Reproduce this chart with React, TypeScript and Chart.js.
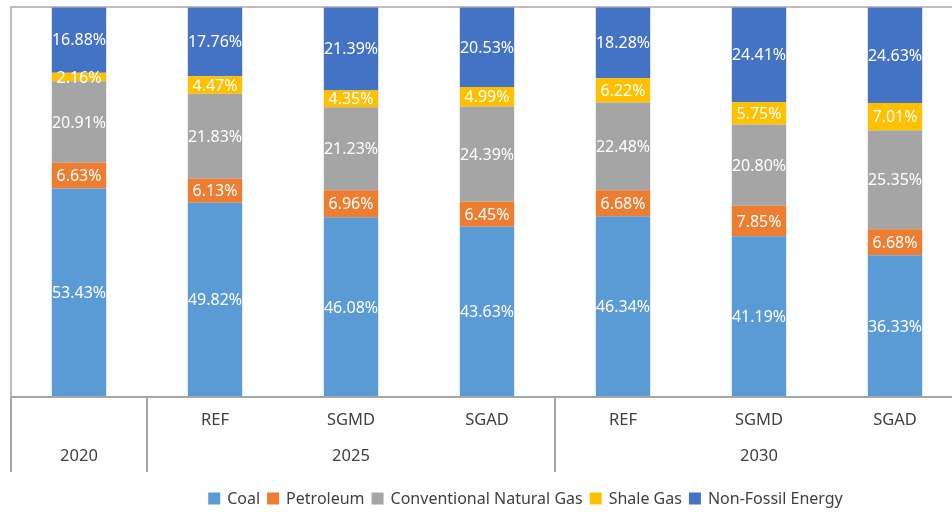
import React, { useEffect, useRef } from "react";
import { Chart, registerables } from "chart.js";

Chart.register(...registerables);

const subLabels = ["", "REF", "SGMD", "SGAD", "REF", "SGMD", "SGAD"];
const groupLabels = ["2020", "2025", "2030"];
const groupSpans = [1, 3, 3];

const coal = [53.43, 49.82, 46.08, 43.63, 46.34, 41.19, 36.33];
const petroleum = [6.63, 6.13, 6.96, 6.45, 6.68, 7.85, 6.68];
const convGas = [20.91, 21.83, 21.23, 24.39, 22.48, 20.8, 25.35];
const shaleGas = [2.16, 4.47, 4.35, 4.99, 6.22, 5.75, 7.01];
const nonFossil = [16.88, 17.76, 21.39, 20.53, 18.28, 24.41, 24.63];

const seriesNames = ["Coal", "Petroleum", "Conventional Natural Gas", "Shale Gas", "Non-Fossil Energy"];
const seriesColors = ["#5B9BD5", "#ED7D31", "#A5A5A5", "#FFC000", "#4472C4"];

const FONT = "'Noto Sans', sans-serif";
const LINE = "#A6A6A6";
const TEXT = "#404040";

const overlay = {
  id: "overlay",
  afterDatasetsDraw(chart: any) {
    const ctx = chart.ctx;
    const ca = chart.chartArea;
    const xs = chart.scales.x;
    // data labels
    ctx.save();
    ctx.font = `16px ${FONT}`;
    ctx.fillStyle = "#FFFFFF";
    ctx.textAlign = "center";
    ctx.textBaseline = "middle";
    chart.data.datasets.forEach((ds: any, di: number) => {
      const meta = chart.getDatasetMeta(di);
      meta.data.forEach((bar: any, i: number) => {
        const v = ds.data[i];
        const cy = (bar.y + bar.base) / 2;
        ctx.fillText(v.toFixed(2) + "%", bar.x, cy + 1);
      });
    });
    ctx.restore();

    // plot border
    ctx.save();
    ctx.strokeStyle = LINE;
    ctx.lineWidth = 1.5;
    ctx.beginPath();
    ctx.moveTo(ca.left, ca.bottom);
    ctx.lineTo(ca.left, ca.top);
    ctx.lineTo(ca.right, ca.top);
    ctx.stroke();
    ctx.lineWidth = 2;
    ctx.beginPath();
    ctx.moveTo(ca.left, ca.bottom);
    ctx.lineTo(ca.right, ca.bottom);
    ctx.stroke();

    // category table
    const step = xs.getPixelForValue(1) - xs.getPixelForValue(0);
    const tableBottom = ca.bottom + 75;
    let idx = 0;
    const bounds: number[] = [xs.getPixelForValue(0) - step / 2];
    groupSpans.forEach((s) => {
      idx += s;
      bounds.push(xs.getPixelForValue(idx - 1) + step / 2);
    });
    ctx.lineWidth = 2;
    bounds.forEach((bx) => {
      ctx.beginPath();
      ctx.moveTo(bx, ca.bottom);
      ctx.lineTo(bx, tableBottom);
      ctx.stroke();
    });

    ctx.font = `16.5px ${FONT}`;
    ctx.fillStyle = TEXT;
    ctx.textAlign = "center";
    ctx.textBaseline = "middle";
    subLabels.forEach((l, i) => {
      if (l) ctx.fillText(l, xs.getPixelForValue(i), ca.bottom + 23);
    });
    let start = 0;
    groupLabels.forEach((g, gi) => {
      const s = groupSpans[gi];
      const x0 = xs.getPixelForValue(start);
      const x1 = xs.getPixelForValue(start + s - 1);
      ctx.fillText(g, (x0 + x1) / 2, ca.bottom + 59);
      start += s;
    });

    // legend
    ctx.font = `16px ${FONT}`;
    ctx.textAlign = "left";
    const box = 12;
    const gapBoxText = 7;
    const gapItems = 7;
    const widths = seriesNames.map((n) => box + gapBoxText + ctx.measureText(n).width);
    const total = widths.reduce((a, b) => a + b, 0) + gapItems * (seriesNames.length - 1);
    let lx = 525.5 - total / 2;
    const ly = 498.5;
    seriesNames.forEach((n, i) => {
      ctx.fillStyle = seriesColors[i];
      ctx.fillRect(lx, ly - box / 2, box, box);
      ctx.fillStyle = TEXT;
      ctx.fillText(n, lx + box + gapBoxText, ly + 1);
      lx += widths[i] + gapItems;
    });
    ctx.restore();
  },
};

export default function App() {
  const ref = useRef<HTMLCanvasElement | null>(null);
  useEffect(() => {
    if (!ref.current) return;
    const values = [coal, petroleum, convGas, shaleGas, nonFossil];
    const chart = new Chart(ref.current, {
      type: "bar",
      data: {
        labels: subLabels.map((l, i) => l || groupLabels[0] + i),
        datasets: seriesNames.map((n, i) => ({
          label: n,
          data: values[i],
          backgroundColor: seriesColors[i],
          borderWidth: 0,
          barPercentage: 0.4,
          categoryPercentage: 1,
        })),
      },
      options: {
        responsive: false,
        animation: false,
        devicePixelRatio: 1,
        layout: { padding: { left: 11, top: 7, right: 17, bottom: 115 } },
        plugins: { legend: { display: false }, tooltip: { enabled: false } },
        scales: {
          x: { stacked: true, display: false },
          y: { stacked: true, display: false, min: 0, max: 100 },
        },
      },
      plugins: [overlay],
    });
    return () => chart.destroy();
  }, []);
  return (
    <div style={{ position: "absolute", left: 0, top: 0, width: 952, height: 512, overflow: "hidden", background: "#fff" }}>
      <canvas ref={ref} width={980} height={512} style={{ width: 980, height: 512, display: "block" }} />
    </div>
  );
}
